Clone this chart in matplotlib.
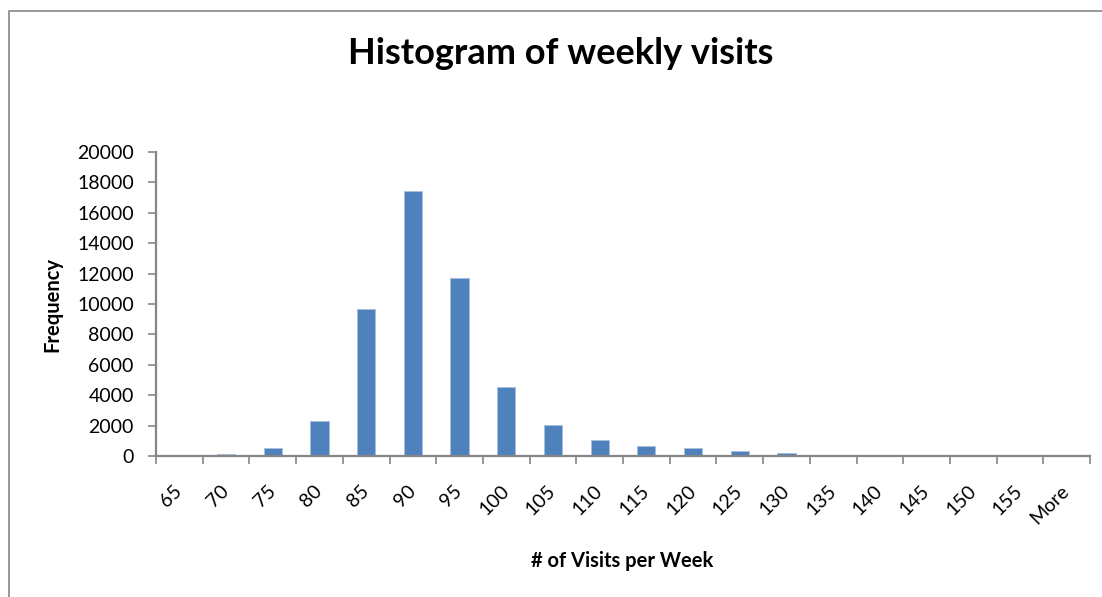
import matplotlib
matplotlib.use("Agg")
import matplotlib.pyplot as plt
from matplotlib.patches import Rectangle
import numpy as np

categories = ["65", "70", "75", "80", "85", "90", "95", "100", "105", "110",
              "115", "120", "125", "130", "135", "140", "145", "150", "155", "More"]
frequency = [40, 150, 500, 2280, 9650, 17450, 11700, 4550, 2050, 1080,
             640, 520, 320, 180, 40, 30, 30, 25, 20, 0]
y_ticks = [0, 2000, 4000, 6000, 8000, 10000, 12000, 14000, 16000, 18000, 20000]

plt.rcParams['font.family'] = ['Lato', 'DejaVu Sans']

W, H = 1102, 597
fig = plt.figure(figsize=(W / 100, H / 100), dpi=100)
ax = fig.add_axes([156 / W, (H - 456) / H, (1090 - 156) / W, (456 - 152) / H])

n = len(categories)
x = np.arange(n)
ax.bar(x, frequency, width=0.39, color="#4F81BD", edgecolor="#A7C0DE", linewidth=0.6, zorder=2)

ax.set_xlim(-0.5, n - 0.5)
ax.set_ylim(0, 20000)
ax.set_yticks(y_ticks)
ax.set_yticklabels([str(v) for v in y_ticks], fontsize=14)

# category boundaries as major ticks, labels at centers as minor ticks
ax.set_xticks(np.arange(n + 1) - 0.5)
ax.set_xticklabels([])
ax.set_xticks(x, minor=True)
ax.set_xticklabels(categories, minor=True, rotation=45, ha='right', va='center',
                   rotation_mode='anchor', fontsize=14)
ax.tick_params(axis='x', which='major', length=6, width=1.2, color="#868686", direction='out')
ax.tick_params(axis='x', which='minor', length=0, pad=23)
ax.tick_params(axis='y', length=6, width=1.2, color="#868686", direction='out', pad=10)

for s in ['top', 'right']:
    ax.spines[s].set_visible(False)
for s in ['left', 'bottom']:
    ax.spines[s].set_color("#868686")
    ax.spines[s].set_linewidth(1.6)

fig.text(561 / W, 1 - 53 / H, "Histogram of weekly visits", ha='center', va='center',
         fontsize=26, fontweight='bold')
fig.text(52 / W, 1 - 304 / H, "Frequency", ha='center', va='center', rotation=90,
         fontsize=14.5, fontweight='bold')
fig.text(622 / W, 1 - 561 / H, "# of Visits per Week", ha='center', va='center',
         fontsize=14.5, fontweight='bold')

# chart outer border
fig.patches.append(Rectangle((9 / W, -0.1), 1.2, 1 - 11 / H + 0.1, transform=fig.transFigure,
                             fill=False, edgecolor="#868686", linewidth=1.2))

fig.savefig("out.png", dpi=100)
